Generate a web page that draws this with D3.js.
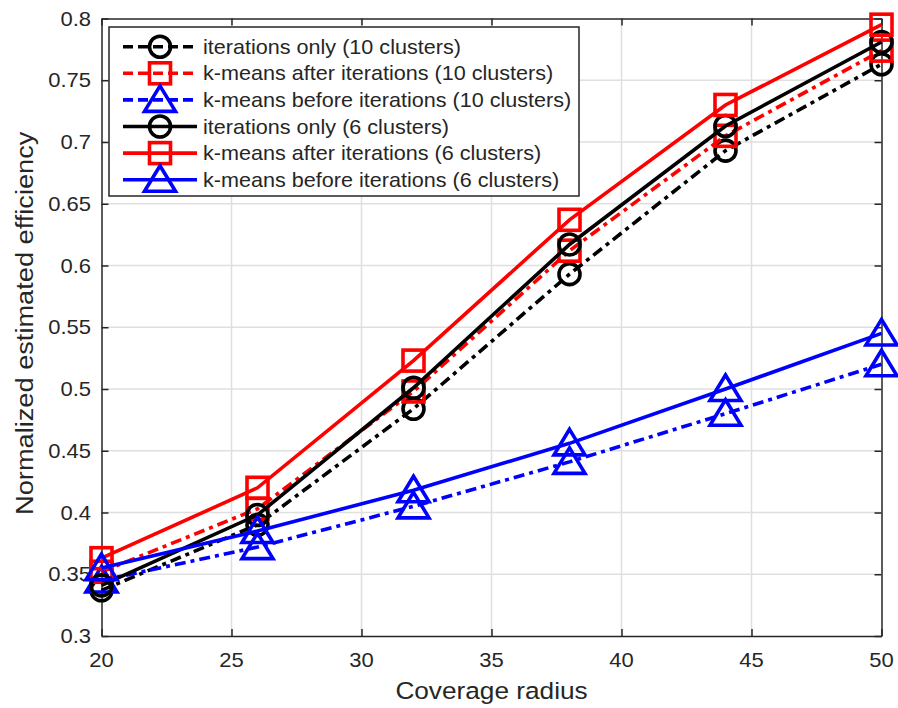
<!DOCTYPE html>
<html>
<head>
<meta charset="utf-8">
<script src="https://cdn.jsdelivr.net/npm/d3@7"></script>
<style>
  html, body { margin: 0; padding: 0; background: #fff; }
  svg { display: block; }
  text { font-family: "Liberation Sans", Arial, Helvetica, sans-serif; fill: #262626; }
</style>
</head>
<body>
<svg id="chart" width="898" height="708"></svg>
<script>
// Coverage radius values on the x axis
const radii = [20, 26, 32, 38, 44, 50];

// Normalized estimated efficiency per method
const iterOnly10   = [0.337, 0.390, 0.484, 0.593, 0.693, 0.763];
const kmAfter10    = [0.352, 0.403, 0.498, 0.612, 0.705, 0.774];
const kmBefore10   = [0.345, 0.372, 0.405, 0.441, 0.480, 0.520];
const iterOnly6    = [0.341, 0.398, 0.501, 0.617, 0.713, 0.781];
const kmAfter6     = [0.363, 0.420, 0.523, 0.637, 0.730, 0.795];
const kmBefore6    = [0.355, 0.385, 0.418, 0.456, 0.500, 0.545];

const seriesNames = [
  "iterations only (10 clusters)",
  "k-means after iterations (10 clusters)",
  "k-means before iterations (10 clusters)",
  "iterations only (6 clusters)",
  "k-means after iterations (6 clusters)",
  "k-means before iterations (6 clusters)"
];

const xTicks = [20, 25, 30, 35, 40, 45, 50];
const yTicks = [0.3, 0.35, 0.4, 0.45, 0.5, 0.55, 0.6, 0.65, 0.7, 0.75, 0.8];
const xTickLabels = ["20", "25", "30", "35", "40", "45", "50"];
const yTickLabels = ["0.3", "0.35", "0.4", "0.45", "0.5", "0.55", "0.6", "0.65", "0.7", "0.75", "0.8"];

const series = [
  { name: seriesNames[0], values: iterOnly10, color: "#000000", marker: "circle",   dashed: true },
  { name: seriesNames[1], values: kmAfter10,  color: "#ff0000", marker: "square",   dashed: true },
  { name: seriesNames[2], values: kmBefore10, color: "#0000ff", marker: "triangle", dashed: true },
  { name: seriesNames[3], values: iterOnly6,  color: "#000000", marker: "circle",   dashed: false },
  { name: seriesNames[4], values: kmAfter6,   color: "#ff0000", marker: "square",   dashed: false },
  { name: seriesNames[5], values: kmBefore6,  color: "#0000ff", marker: "triangle", dashed: false }
];

const svg = d3.select("#chart");
const plot = { left: 101.5, right: 881.5, top: 18.5, bottom: 636 };

const x = d3.scaleLinear().domain([20, 50]).range([plot.left, plot.right]);
const y = d3.scaleLinear().domain([0.3, 0.8]).range([plot.bottom, plot.top]);

const axisColor = "#262626";
const gridColor = "#dfdfdf";
const lineW = 3.6;
const dashPattern = "11,5,4,5";

// text widened horizontally to the wider face used by the figure
function stretchedText(g, tx, ty, str, size, sx, anchor, rotate) {
  return g.append("text")
    .attr("transform", `translate(${tx},${ty})` + (rotate ? ` rotate(${rotate})` : "") + ` scale(${sx},1)`)
    .attr("font-size", size)
    .attr("text-anchor", anchor)
    .text(str);
}

// grid
const grid = svg.append("g");
grid.selectAll("line.gx").data(xTicks.slice(1, -1)).join("line")
  .attr("x1", d => x(d)).attr("x2", d => x(d))
  .attr("y1", plot.top).attr("y2", plot.bottom)
  .attr("stroke", gridColor).attr("stroke-width", 1.5);
grid.selectAll("line.gy").data(yTicks.slice(1, -1)).join("line")
  .attr("y1", d => y(d)).attr("y2", d => y(d))
  .attr("x1", plot.left).attr("x2", plot.right)
  .attr("stroke", gridColor).attr("stroke-width", 1.5);

// axes with inward ticks on all four sides
const tickLen = 7;
const axB = svg.append("g").attr("transform", `translate(0,${plot.bottom})`)
  .call(d3.axisBottom(x).tickValues(xTicks).tickSizeInner(-tickLen).tickSizeOuter(0).tickFormat(""));
const axT = svg.append("g").attr("transform", `translate(0,${plot.top})`)
  .call(d3.axisTop(x).tickValues(xTicks).tickSizeInner(-tickLen).tickSizeOuter(0).tickFormat(""));
const axL = svg.append("g").attr("transform", `translate(${plot.left},0)`)
  .call(d3.axisLeft(y).tickValues(yTicks).tickSizeInner(-tickLen).tickSizeOuter(0).tickFormat(""));
const axR = svg.append("g").attr("transform", `translate(${plot.right},0)`)
  .call(d3.axisRight(y).tickValues(yTicks).tickSizeInner(-tickLen).tickSizeOuter(0).tickFormat(""));
[axB, axT, axL, axR].forEach(a => {
  a.selectAll("path.domain").attr("stroke", axisColor).attr("stroke-width", 1.5);
  a.selectAll(".tick line").attr("stroke", axisColor).attr("stroke-width", 1.5);
});

// tick labels
const labels = svg.append("g");
xTicks.forEach((v, i) => stretchedText(labels, x(v), 667, xTickLabels[i], 20, 1.1, "middle"));
yTicks.forEach((v, i) => stretchedText(labels, 91, y(v) + 7, yTickLabels[i], 20, 1.1, "end"));

// axis titles
stretchedText(labels, (plot.left + plot.right) / 2, 699, "Coverage radius", 24.5, 1.07, "middle");
stretchedText(labels, 33, (plot.top + plot.bottom) / 2 - 4, "Normalized estimated efficiency", 24.5, 1.11, "middle", -90);

// marker drawing
function drawMarker(g, cx, cy, kind, color) {
  if (kind === "circle") {
    g.append("circle").attr("cx", cx).attr("cy", cy).attr("r", 10.5)
      .attr("fill", "none").attr("stroke", color).attr("stroke-width", lineW);
  } else if (kind === "square") {
    g.append("rect").attr("x", cx - 10.5).attr("y", cy - 10.5).attr("width", 21).attr("height", 21)
      .attr("fill", "none").attr("stroke", color).attr("stroke-width", lineW);
  } else {
    const p = d3.path();
    p.moveTo(cx, cy - 14); p.lineTo(cx + 15.5, cy + 11.5); p.lineTo(cx - 15.5, cy + 11.5); p.closePath();
    g.append("path").attr("d", p.toString())
      .attr("fill", "none").attr("stroke", color).attr("stroke-width", lineW).attr("stroke-linejoin", "miter");
  }
}

// data lines and markers
const lineGen = d3.line().x((d, i) => x(radii[i])).y(d => y(d));
const dataG = svg.append("g");
series.forEach(s => {
  const g = dataG.append("g");
  g.append("path").datum(s.values)
    .attr("d", lineGen)
    .attr("fill", "none")
    .attr("stroke", s.color)
    .attr("stroke-width", lineW)
    .attr("stroke-dasharray", s.dashed ? dashPattern : null);
  s.values.forEach((v, i) => drawMarker(g, x(radii[i]), y(v), s.marker, s.color));
});

// legend
const leg = svg.append("g");
const lg = { x: 109, y: 27, w: 470, h: 169, row0: 46.7, step: 26.6 };
leg.append("rect").attr("x", lg.x).attr("y", lg.y).attr("width", lg.w).attr("height", lg.h)
  .attr("fill", "#fff").attr("stroke", axisColor).attr("stroke-width", 1.5);
series.forEach((s, i) => {
  const cy = lg.row0 + i * lg.step;
  leg.append("line").attr("x1", 123).attr("x2", 197).attr("y1", cy).attr("y2", cy)
    .attr("stroke", s.color).attr("stroke-width", lineW)
    .attr("stroke-dasharray", s.dashed ? "10,5" : null);
  drawMarker(leg, 160, cy, s.marker, s.color);
  stretchedText(leg, 203, cy + 7, s.name, 20, 1.08, "start");
});
</script>
</body>
</html>
